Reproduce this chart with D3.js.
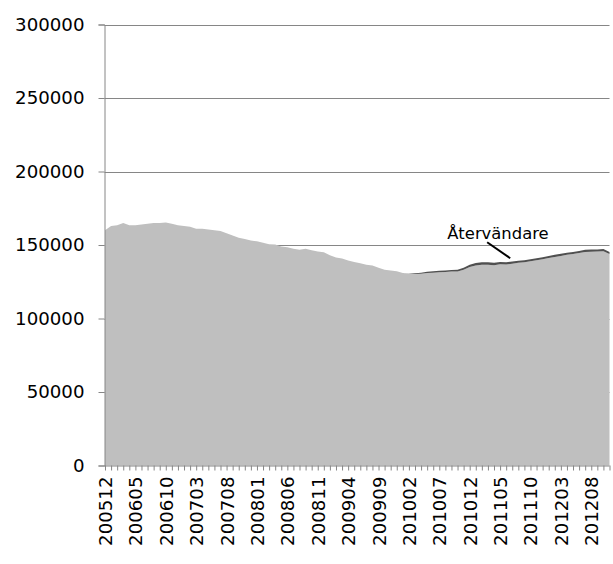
<!DOCTYPE html>
<html>
<head>
<meta charset="utf-8">
<script src="https://cdn.jsdelivr.net/npm/d3@7"></script>
<style>
  html, body { margin: 0; padding: 0; background: #fff; }
  svg { display: block; }
  text { font-family: "DejaVu Sans", sans-serif; fill: #000; }
</style>
</head>
<body>
<svg id="chart" width="613" height="564"></svg>
<script>
// ---- data ----
const months = [];
for (let yr = 2005; yr <= 2012; yr++) {
  for (let m = 1; m <= 12; m++) {
    if (yr === 2005 && m < 12) continue;
    if (yr === 2012 && m > 11) continue;
    months.push(String(yr) + String(m).padStart(2, "0"));
  }
}
// total level (top of the stacked areas), in thousands
const totalK = [
  160.0, 163.0, 163.5, 165.0, 163.5, 163.5, 164.0, 164.5, 165.0, 165.0,
  165.3, 164.5, 163.5, 163.0, 162.5, 161.0, 161.0, 160.5, 160.0, 159.5,
  158.0, 156.5, 155.0, 154.0, 153.0, 152.5, 151.5, 150.5, 150.3, 149.0,
  148.5, 147.5, 146.7, 147.4, 146.5, 145.5, 145.0, 143.0, 141.5, 140.8,
  139.5, 138.5, 137.6, 136.5, 136.0, 134.5, 133.2, 132.7, 132.2, 131.0,
  130.5, 130.8, 131.2, 131.8, 132.2, 132.5, 132.7, 133.0, 133.2, 134.5,
  136.5, 137.8, 138.3, 138.3, 138.0, 138.5, 138.3, 138.8, 139.3, 139.6,
  140.3, 141.0, 141.7, 142.5, 143.3, 144.0, 144.8, 145.3, 146.0, 146.7,
  146.9, 147.0, 147.2, 145.3
];
// returnees ("Återvändare"), stacked on top
const returnees = [
  0,0,0,0,0,0,0,0,0,0,
  0,0,0,0,0,0,0,0,0,0,
  0,0,0,0,0,0,0,0,0,0,
  0,0,0,0,0,0,0,0,0,0,
  0,0,0,0,0,0,0,0,0,0,
  300, 600, 800, 900, 1000, 1000, 1100, 1100, 1200, 1300,
  1500, 1700, 1800, 1800, 1700, 1600, 1500, 1500, 1400, 1400,
  1400, 1400, 1400, 1400, 1500, 1500, 1500, 1500, 1500, 1500,
  1500, 1500, 1500, 1400
];
const baseValues = totalK.map((t, i) => t * 1000 - returnees[i]);
const yTicks = [0, 50000, 100000, 150000, 200000, 250000, 300000];
const labelEvery = 5;
const annotationText = "Återvändare";

// ---- layout ----
const svg = d3.select("#chart");
const plotL = 104.5, plotR = 609.5, plotT = 24.5, plotB = 465.5;

const x = d3.scalePoint().domain(months).range([plotL + 0.5, plotR]).padding(0);
const y = d3.scaleLinear().domain([0, 300000]).range([plotB, plotT]);

const rows = months.map((m, i) => ({ month: m, base: baseValues[i], ret: returnees[i] }));
const stacked = d3.stack().keys(["base", "ret"])(rows);

// gridlines
svg.append("g")
  .selectAll("line")
  .data(yTicks.filter(d => d > 0))
  .join("line")
  .attr("x1", plotL).attr("x2", plotR)
  .attr("y1", d => Math.round(y(d)) + 0.5).attr("y2", d => Math.round(y(d)) + 0.5)
  .attr("stroke", "#868686").attr("stroke-width", 1);

// areas
const area = d3.area()
  .x((d, i) => x(months[i]))
  .y0(d => y(d[0]))
  .y1(d => y(d[1]));

const colors = ["#bfbfbf", "#505050"];
svg.append("g")
  .selectAll("path")
  .data(stacked)
  .join("path")
  .attr("d", area)
  .attr("fill", (d, i) => colors[i])
  .attr("stroke", "none");

// y axis
const yAxis = d3.axisLeft(y).tickValues(yTicks).tickSize(6).tickPadding(14)
  .tickFormat(d3.format("d"));
const gy = svg.append("g").attr("transform", `translate(${plotL},0)`).call(yAxis);
gy.select(".domain").attr("stroke", "#868686");
gy.selectAll(".tick line").attr("stroke", "#868686");
gy.selectAll(".tick text")
  .attr("font-size", "18.2px")
  .attr("font-family", "DejaVu Sans, sans-serif")
  .attr("fill", "#000");

// x axis
const xAxis = d3.axisBottom(x).tickSize(5).tickSizeOuter(0)
  .tickFormat((d, i) => (i % labelEvery === 0 ? d : ""));
const gx = svg.append("g").attr("transform", `translate(0,${plotB})`).call(xAxis);
gx.select(".domain").attr("stroke", "#868686").attr("d", `M${plotL},0.5H${plotR}`);
gx.selectAll(".tick line").attr("stroke", "#868686");
gx.selectAll(".tick text")
  .attr("font-size", "18.2px")
  .attr("font-family", "DejaVu Sans, sans-serif")
  .attr("fill", "#000")
  .attr("text-anchor", "end")
  .attr("dy", null)
  .attr("transform", "translate(0,11) rotate(-90)")
  .attr("x", 0).attr("y", 0)
  .attr("dominant-baseline", "central");

// annotation
const ai = 66;
const ax = x(months[ai]) + 4, ay = y(totalK[ai] * 1000) - 4;
svg.append("line")
  .attr("x1", ax - 23).attr("y1", ay - 16)
  .attr("x2", ax).attr("y2", ay)
  .attr("stroke", "#000").attr("stroke-width", 2);
svg.append("text")
  .attr("x", ax - 63).attr("y", ay - 19.5)
  .attr("font-size", "16.4px")
  .text(annotationText);
</script>
</body>
</html>
